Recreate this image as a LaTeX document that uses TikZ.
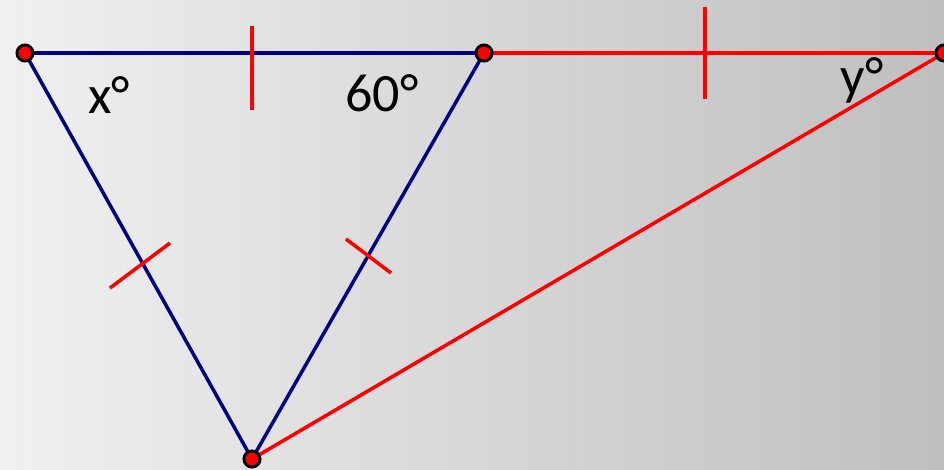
\documentclass[tikz,border=0pt]{standalone}
\usepackage{fontspec}
\setmainfont{Carlito}
\usetikzlibrary{positioning,calc}
\definecolor{geoNavy}{HTML}{000080}
\definecolor{geoRed}{HTML}{FF0000}
\definecolor{geoBgL}{HTML}{F0F0F0}
\definecolor{geoBgR}{HTML}{BFBFBF}
\tikzset{
  vertex/.style={circle, draw=black, fill=geoRed, line width=3pt, minimum size=16pt, inner sep=0pt},
  navyside/.style={line width=3.5pt, geoNavy},
  redside/.style={line width=3.5pt, geoRed},
  tickmark/.style={line width=3.5pt, geoRed},
  anglabel/.style={font=\fontsize{54}{58}\selectfont, inner sep=0pt}
}

\begin{document}
\begin{tikzpicture}[x=1pt, y=-1pt]
  % background
  \shade[left color=geoBgL, right color=geoBgR] (0,0) rectangle (944,469);
  \useasboundingbox (0,0) rectangle (944,469);

  \coordinate (A) at (25,53);
  \coordinate (B) at (484,53);
  \coordinate (C) at (944,53);
  \coordinate (D) at (252,459);

  % sides
  \draw[navyside] (A) -- (B);
  \draw[navyside] (A) -- (D);
  \draw[navyside] (B) -- (D);
  \draw[redside] (B) -- (C);
  \draw[redside] (D) -- (C);

  % equal marks
  \draw[tickmark] (252,26) -- (252,110);
  \draw[tickmark] (705,7) -- (705,99);
  \draw[tickmark] (110,288) -- (170,243);
  \draw[tickmark] (346,239) -- (391,273);

  % points
  \node[vertex] (Adot) at (A) {};
  \node[vertex] (Bdot) at (B) {};
  \node[vertex] (Cdot) at (C) {};
  \node[vertex] (Ddot) at (D) {};

  % angles
  \node[anglabel] (xang) at (109,95) {x°};
  \node[anglabel] (sixty) at (382,93) {60°};
  \node[anglabel] (yang) at (862,80) {y°};
\end{tikzpicture}
\end{document}
